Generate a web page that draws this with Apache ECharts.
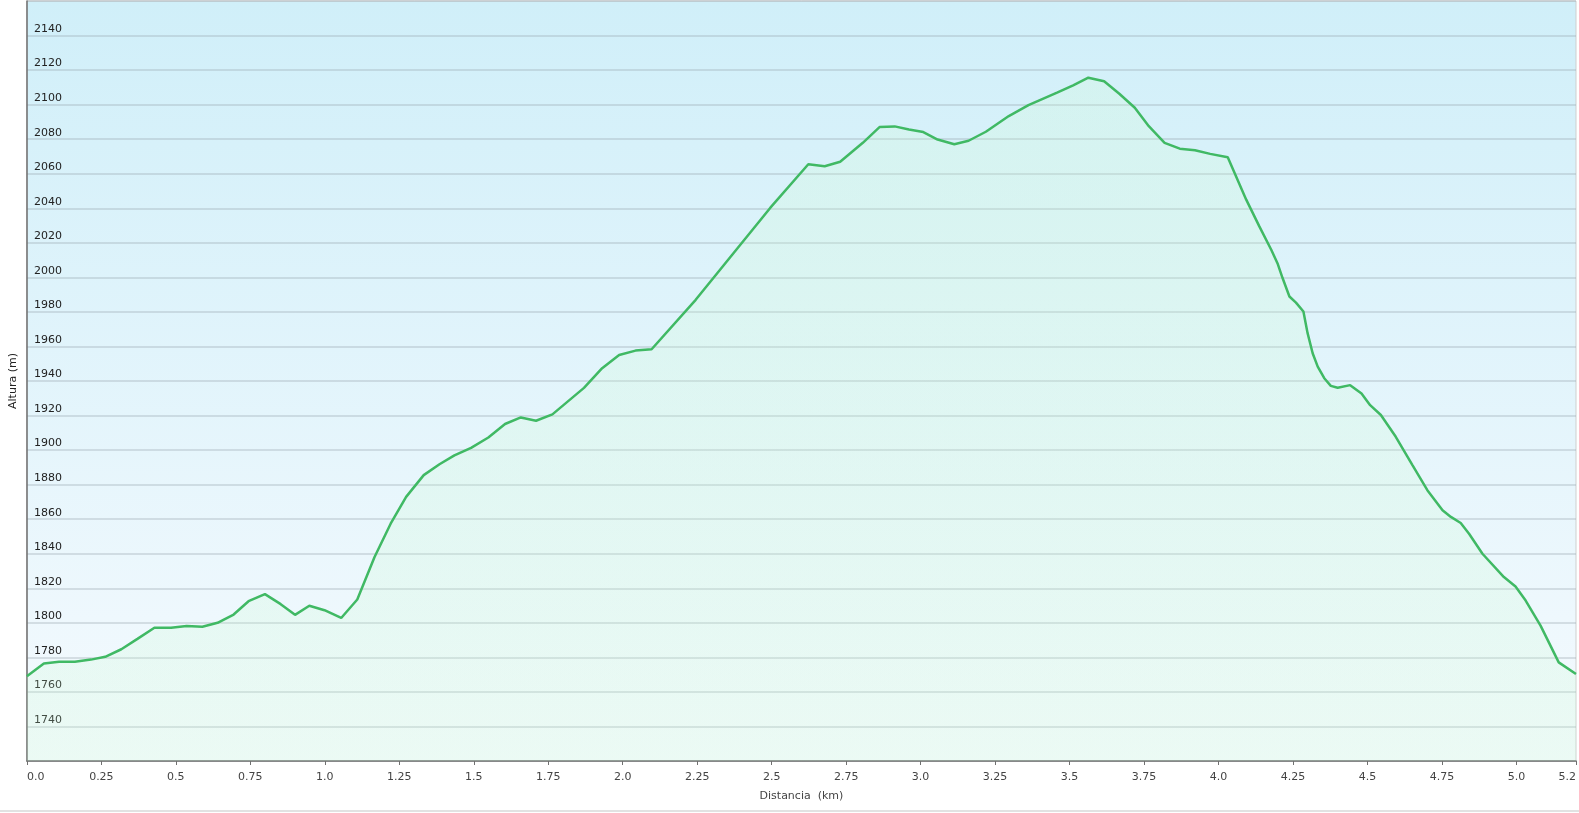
<!DOCTYPE html>
<html>
<head>
<meta charset="utf-8">
<script src="https://cdn.jsdelivr.net/npm/echarts@6/dist/echarts.min.js"></script>
<style>
  html, body { margin: 0; padding: 0; background: #ffffff; }
  #chart { width: 1579px; height: 813px; }
</style>
</head>
<body>
<div id="chart"></div>
<script>
// Distance along the track (km)
const distances = [
  0.000, 0.057, 0.108, 0.161, 0.215, 0.263, 0.317, 0.371, 0.428, 0.484,
  0.536, 0.589, 0.640, 0.694, 0.744, 0.799, 0.852, 0.900, 0.948, 0.999,
  1.055, 1.109, 1.167, 1.221, 1.273, 1.332, 1.385, 1.435, 1.491, 1.549,
  1.605, 1.658, 1.709, 1.764, 1.870, 1.931, 1.988, 2.043, 2.097, 2.245,
  2.495, 2.623, 2.678, 2.730, 2.806, 2.862, 2.913, 2.961, 3.009, 3.057,
  3.113, 3.161, 3.219, 3.296, 3.362, 3.458, 3.512, 3.563, 3.616, 3.667,
  3.719, 3.766, 3.819, 3.870, 3.921, 3.972, 4.031, 4.093, 4.137, 4.177,
  4.199, 4.215, 4.238, 4.260, 4.285, 4.299, 4.316, 4.333, 4.355, 4.377,
  4.400, 4.442, 4.480, 4.509, 4.545, 4.595, 4.651, 4.701, 4.752, 4.780,
  4.813, 4.841, 4.886, 4.958, 4.997, 5.031, 5.081, 5.142, 5.200
];
// Altitude (m)
const altitudes = [
  1769.0, 1776.4, 1777.4, 1777.5, 1778.7, 1780.3, 1784.7, 1790.7, 1797.1, 1797.1,
  1798.2, 1797.7, 1800.0, 1804.8, 1812.5, 1816.6, 1810.8, 1804.6, 1809.9, 1807.3,
  1802.8, 1813.5, 1838.1, 1857.4, 1872.9, 1885.5, 1891.8, 1896.9, 1901.3, 1907.3,
  1915.1, 1918.9, 1917.0, 1920.7, 1936.0, 1947.4, 1955.1, 1957.6, 1958.4, 1987.0,
  2040.2, 2065.5, 2064.3, 2066.9, 2077.9, 2087.0, 2087.4, 2085.6, 2084.1, 2079.8,
  2077.1, 2079.1, 2084.3, 2093.4, 2099.7, 2106.9, 2111.2, 2115.6, 2113.5, 2106.3,
  2098.2, 2087.5, 2077.9, 2074.5, 2073.6, 2071.5, 2069.5, 2045.0, 2029.5, 2016.0,
  2007.7, 1999.6, 1988.9, 1985.4, 1980.2, 1967.7, 1956.1, 1948.3, 1941.6, 1937.2,
  1936.1, 1937.6, 1932.7, 1926.0, 1920.3, 1907.7, 1891.3, 1876.8, 1865.2, 1861.3,
  1857.8, 1851.6, 1840.0, 1826.5, 1821.0, 1812.9, 1798.4, 1777.1, 1770.4
];

const xAxisName = 'Distancia  (km)';
const yAxisName = 'Altura (m)';
const xMin = 0, xMax = 5.2, xStep = 0.25;
const yMin = 1720, yMax = 2160, yStep = 20;

const points = distances.map((d, i) => [d, altitudes[i]]);

const chart = echarts.init(document.getElementById('chart'), null, { renderer: 'canvas' });

const font = 'DejaVu Sans, Verdana, sans-serif';

chart.setOption({
  animation: false,
  backgroundColor: '#ffffff',
  grid: {
    left: 24, right: 2, top: 1, bottom: 52,
    show: true,
    borderWidth: 1,
    borderColor: '#cfcfcf',
    backgroundColor: new echarts.graphic.LinearGradient(0, 0, 0, 1, [
      { offset: 0, color: 'rgb(208,239,249)' },
      { offset: 1, color: 'rgb(245,250,254)' }
    ])
  },
  xAxis: {
    type: 'value',
    min: xMin, max: xMax, interval: xStep,
    name: xAxisName,
    nameLocation: 'middle',
    nameGap: 30,
    nameTextStyle: { color: '#444', fontFamily: font, fontSize: 11 },
    axisLine: { show: true, onZero: false, lineStyle: { color: '#707070', width: 1.5 } },
    axisTick: { show: true, length: 4, lineStyle: { color: '#707070', width: 1 } },
    splitLine: { show: false },
    axisLabel: {
      color: '#444',
      fontFamily: font,
      fontSize: 11,
      margin: 11,
      alignMinLabel: 'left',
      alignMaxLabel: 'right',
      formatter: function (v) {
        const r = Math.round(v * 100) / 100;
        return Number.isInteger(r) ? r.toFixed(1) : String(r);
      }
    }
  },
  yAxis: {
    type: 'value',
    min: yMin, max: yMax, interval: yStep,
    name: yAxisName,
    nameLocation: 'middle',
    nameRotate: 90,
    nameGap: 3,
    nameTextStyle: { color: '#222', fontFamily: font, fontSize: 11 },
    axisLine: { show: true, lineStyle: { color: '#707070', width: 1.5 } },
    axisTick: { show: false },
    splitLine: { show: true, lineStyle: { color: 'rgba(150,165,175,0.42)', width: 1.5 } },
    axisLabel: {
      inside: true,
      margin: 7,
      color: '#222',
      fontFamily: font,
      fontSize: 11,
      verticalAlign: 'bottom',
      padding: [0, 0, 1, 0],
      showMinLabel: false,
      showMaxLabel: false,
      formatter: function (v) { return String(Math.round(v)); }
    }
  },
  series: [{
    type: 'line',
    data: points,
    showSymbol: false,
    symbol: 'none',
    smooth: false,
    lineStyle: { color: 'rgb(64,185,100)', width: 2.5 },
    areaStyle: {
      color: new echarts.graphic.LinearGradient(0, 1, 0, 761, [
        { offset: 0, color: 'rgba(214,255,205,0.28)' },
        { offset: 1, color: 'rgba(195,250,204,0.28)' }
      ], true)
    }
  }],
  graphic: [{
    type: 'rect',
    shape: { x: 0, y: 810, width: 1579, height: 2 },
    style: { fill: '#e2e2e2' },
    silent: true
  }]
});
</script>
</body>
</html>
